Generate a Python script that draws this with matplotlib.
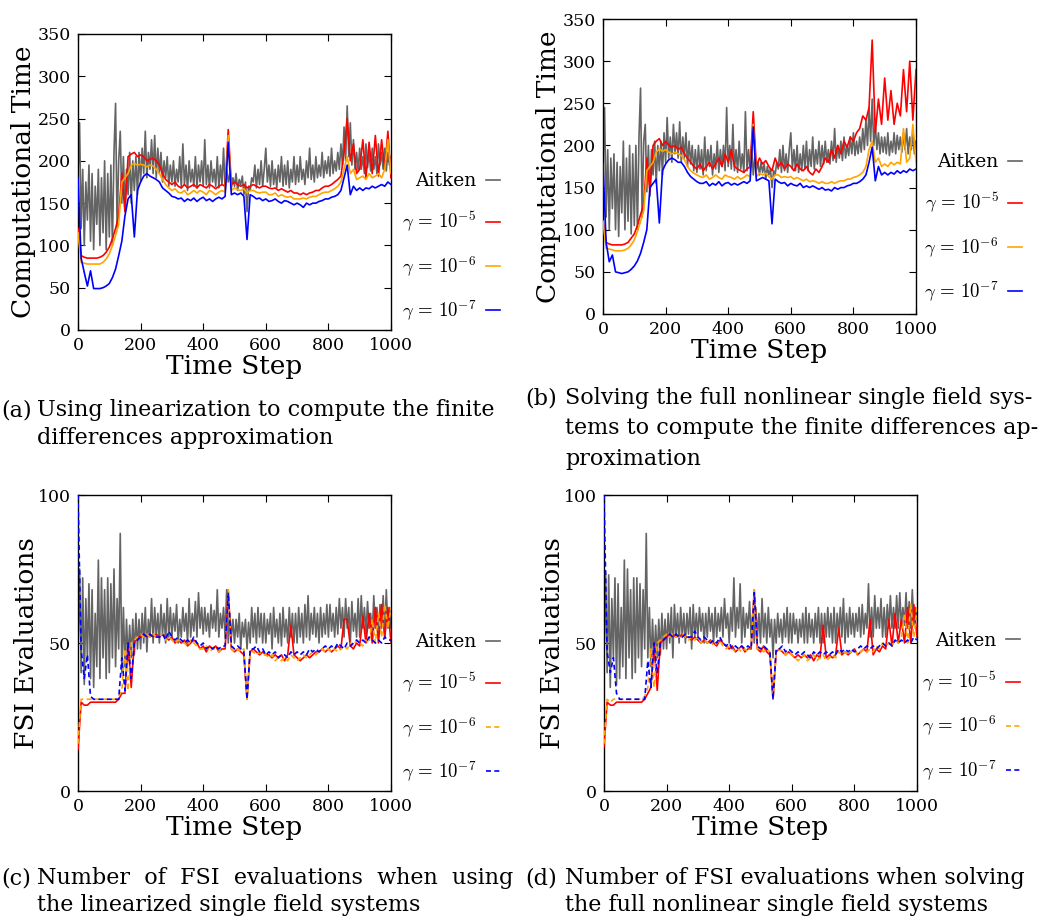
import matplotlib
matplotlib.use("Agg")
from matplotlib import pyplot as plt
import numpy as np

plt.rcParams['font.family'] = ['DejaVu Serif']
plt.rcParams['mathtext.fontset'] = 'cm'

# Aitken is read every 5 steps, the gamma runs every 10 steps
steps_fine = np.arange(0, 1001, 5)
steps = np.arange(0, 1001, 10)

# (a) computational time, linearized finite differences
a_aitken = [185, 245, 120, 190, 100, 175, 130, 195, 105, 185, 95, 170, 125, 190, 100, 180, 115, 200, 95, 185,
            110, 195, 100, 210, 268, 120, 200, 235, 150, 205, 140, 190, 160, 210, 150, 200, 165, 205, 160, 210,
            175, 215, 185, 235, 180, 210, 190, 225, 185, 230, 180, 215, 185, 210, 175, 200, 180, 205, 170, 195,
            175, 200, 170, 190, 175, 205, 168, 220, 172, 195, 165, 200, 175, 190, 170, 205, 168, 195, 175, 200,
            170, 225, 172, 195, 168, 200, 175, 190, 170, 205, 168, 195, 172, 215, 165, 190, 175, 185, 168, 180,
            170, 185, 165, 178, 172, 182, 160, 175, 140, 170, 165, 180, 175, 195, 168, 190, 172, 200, 170, 190,
            215, 175, 195, 170, 200, 172, 190, 168, 195, 175, 205, 170, 195, 172, 200, 168, 190, 175, 205, 172,
            195, 175, 205, 178, 190, 172, 200, 180, 215, 178, 195, 175, 205, 180, 195, 182, 210, 180, 200, 185,
            205, 182, 215, 185, 200, 188, 210, 190, 220, 195, 240, 200, 265, 205, 245, 195, 225, 190, 210, 188,
            215, 190, 205, 185, 220, 192, 210, 188, 215, 190, 205, 185, 220, 195, 210, 190, 215, 188, 210, 195,
            205]
a_g5 = [120, 88, 86, 85, 85, 85, 85, 86, 88, 92,
        98, 108, 120, 135, 185, 140, 205, 208, 210, 205,
        207, 205, 200, 202, 203, 200, 195, 185, 178, 175,
        172, 175, 170, 168, 172, 168, 170, 172, 168, 172,
        170, 168, 172, 170, 167, 170, 172, 170, 237, 172,
        175, 172, 170, 172, 168, 170, 172, 170, 168, 170,
        170, 168, 167, 168, 165, 167, 165, 163, 165, 162,
        162, 160, 162, 160, 162, 163, 165, 165, 168, 170,
        170, 172, 175, 178, 182, 210, 250, 200, 220, 185,
        190, 225, 180, 222, 185, 230, 182, 225, 190, 235,
        180]
a_g6 = [115, 80, 79, 78, 78, 78, 78, 78, 80, 84,
        90, 100, 112, 125, 175, 180, 185, 195, 197, 195,
        196, 195, 193, 195, 194, 190, 185, 178, 172, 168,
        165, 167, 163, 162, 165, 160, 162, 165, 162, 165,
        163, 160, 165, 163, 160, 163, 165, 163, 230, 165,
        168, 166, 165, 167, 162, 165, 165, 163, 162, 163,
        163, 160, 160, 162, 158, 160, 158, 157, 158, 155,
        155, 155, 156, 155, 157, 158, 158, 160, 162, 163,
        163, 165, 167, 170, 175, 190, 205, 185, 190, 178,
        180, 182, 178, 185, 180, 182, 185, 180, 190, 225,
        185]
a_g7 = [180, 85, 68, 52, 70, 49, 49, 49, 50, 52,
        55, 62, 72, 88, 105, 135, 155, 160, 110, 165,
        175, 182, 185, 182, 180, 178, 175, 168, 165, 162,
        158, 157, 155, 156, 152, 155, 153, 156, 152, 155,
        157, 153, 155, 152, 155, 157, 155, 158, 222, 160,
        162, 160, 162, 158, 107, 160, 158, 155, 156, 153,
        155, 152, 153, 155, 152, 150, 153, 152, 150, 148,
        150, 148, 145, 150, 148, 150, 150, 152, 153, 155,
        155, 157, 158, 160, 165, 180, 195, 160, 170, 165,
        168, 165, 168, 167, 170, 168, 170, 172, 170, 175,
        172]

# (b) computational time, full nonlinear single field solves
b_aitken = [180, 245, 115, 195, 100, 185, 125, 190, 100, 180, 92, 175, 120, 205, 100, 185, 110, 200, 95, 190,
            105, 200, 100, 210, 268, 115, 205, 225, 145, 200, 140, 195, 165, 205, 155, 200, 170, 205, 165, 215,
            180, 233, 185, 210, 180, 225, 190, 215, 185, 228, 180, 210, 185, 215, 175, 205, 178, 200, 170, 195,
            168, 200, 172, 195, 165, 210, 170, 195, 175, 200, 165, 190, 172, 205, 168, 195, 175, 200, 170, 245,
            175, 200, 172, 225, 170, 195, 168, 205, 172, 190, 168, 240, 170, 195, 172, 200, 165, 185, 170, 180,
            165, 180, 168, 178, 160, 175, 165, 172, 150, 170, 165, 180, 172, 195, 168, 200, 170, 190, 168, 195,
            215, 172, 195, 170, 200, 168, 190, 170, 200, 172, 205, 170, 195, 175, 210, 172, 195, 178, 205, 175,
            200, 178, 205, 180, 195, 178, 205, 182, 220, 180, 200, 185, 205, 182, 210, 185, 200, 188, 210, 190,
            215, 188, 205, 190, 210, 192, 220, 195, 230, 200, 245, 205, 255, 200, 225, 195, 215, 190, 210, 192,
            210, 190, 215, 188, 205, 192, 215, 190, 212, 195, 210, 192, 215, 195, 220, 190, 210, 195, 215, 190,
            205]
b_g5 = [110, 85, 83, 82, 82, 82, 82, 83, 85, 90,
        95, 105, 118, 130, 185, 145, 200, 205, 208, 200,
        205, 200, 198, 200, 195, 198, 190, 185, 180, 175,
        172, 178, 170, 175, 180, 172, 178, 185, 175, 190,
        180, 195, 175, 172, 170, 168, 172, 175, 240, 175,
        185, 178, 182, 175, 170, 185, 175, 180, 172, 178,
        175, 170, 178, 172, 170, 175, 168, 165, 172, 168,
        175, 185, 180, 195, 185, 200, 190, 205, 198, 210,
        205, 215, 220, 235, 230, 245, 325, 215, 255, 225,
        280, 230, 265, 225, 250, 235, 290, 240, 300, 230,
        290]
b_g6 = [110, 78, 77, 76, 75, 75, 75, 76, 78, 82,
        88, 98, 110, 122, 170, 175, 180, 192, 196, 193,
        195, 192, 190, 192, 190, 188, 183, 175, 170, 167,
        165, 163, 162, 165, 160, 162, 165, 162, 160, 165,
        163, 162, 160, 163, 160, 162, 165, 163, 225, 163,
        167, 165, 167, 163, 160, 165, 165, 162, 163, 162,
        163, 160, 162, 160, 158, 160, 157, 158, 157, 155,
        157, 155, 155, 157, 155, 157, 158, 158, 160, 160,
        162, 163, 165, 168, 175, 195, 205, 180, 185, 175,
        178, 175, 180, 177, 180, 178, 220, 180, 185, 225,
        180]
b_g7 = [178, 85, 62, 70, 50, 49, 48, 49, 50, 53,
        57, 63, 72, 85, 100, 150, 155, 160, 108, 170,
        178, 183, 185, 183, 180, 180, 175, 168, 163, 160,
        157, 155, 155, 157, 152, 155, 153, 157, 152, 155,
        156, 153, 155, 153, 155, 157, 155, 158, 222, 158,
        160, 162, 160, 158, 107, 160, 157, 155, 156, 152,
        155, 153, 152, 155, 150, 152, 150, 152, 150, 148,
        150, 147, 148, 146, 150, 148, 150, 150, 152, 153,
        155, 155, 157, 160, 165, 180, 198, 158, 175, 165,
        168, 165, 168, 166, 170, 167, 170, 168, 172, 170,
        172]

# (c) FSI evaluations, linearized
c_aitken = [48, 75, 40, 72, 36, 65, 45, 70, 38, 68, 35, 60, 42, 78, 38, 72, 45, 68, 38, 72,
            40, 70, 45, 75, 42, 65, 48, 87, 40, 62, 42, 58, 44, 56, 45, 58, 46, 60, 48, 58,
            48, 60, 50, 62, 47, 58, 52, 65, 50, 62, 52, 60, 50, 63, 53, 60, 50, 65, 52, 62,
            52, 60, 54, 63, 50, 58, 52, 62, 54, 60, 50, 65, 52, 60, 54, 64, 52, 67, 55, 62,
            53, 62, 54, 60, 52, 63, 55, 61, 54, 68, 52, 60, 55, 62, 52, 68, 50, 60, 52, 58,
            50, 58, 52, 60, 48, 57, 52, 58, 48, 57, 50, 62, 52, 60, 50, 62, 52, 60, 50, 60,
            50, 58, 53, 60, 48, 62, 52, 58, 50, 60, 49, 62, 52, 58, 50, 62, 52, 60, 50, 60,
            50, 62, 52, 60, 50, 63, 52, 66, 51, 60, 53, 62, 52, 60, 50, 62, 52, 60, 53, 63,
            52, 63, 54, 60, 52, 62, 53, 65, 55, 62, 52, 65, 55, 62, 50, 64, 54, 60, 52, 65,
            52, 66, 55, 62, 53, 64, 55, 60, 52, 66, 55, 62, 53, 63, 55, 66, 52, 68, 55, 62,
            55]
c_g5 = [14, 30, 29, 29, 30, 30, 30, 30, 30, 30,
        30, 30, 30, 31, 33, 33, 50, 35, 50, 52,
        52, 53, 52, 53, 52, 53, 52, 53, 52, 51,
        52, 50, 51, 50, 51, 49, 50, 51, 50, 48,
        49, 47, 49, 48, 49, 47, 48, 48, 68, 48,
        47, 48, 47, 46, 31, 47, 48, 47, 46, 47,
        46, 46, 45, 46, 45, 46, 44, 46, 56, 46,
        45, 44, 45, 46, 45, 46, 47, 47, 48, 47,
        48, 47, 48, 49, 48, 58, 58, 49, 48, 50,
        49, 59, 50, 60, 50, 62, 50, 63, 52, 62,
        50]
c_g6 = [16, 31, 31, 31, 31, 31, 31, 31, 31, 31,
        31, 31, 31, 32, 34, 48, 34, 50, 51, 52,
        53, 52, 53, 52, 53, 52, 52, 53, 51, 52,
        51, 50, 51, 50, 50, 49, 51, 50, 49, 48,
        48, 49, 47, 48, 48, 47, 48, 49, 68, 48,
        47, 48, 47, 48, 31, 47, 47, 46, 47, 46,
        46, 45, 46, 44, 45, 44, 45, 44, 46, 45,
        44, 45, 46, 45, 46, 47, 46, 47, 48, 47,
        48, 47, 48, 47, 48, 49, 48, 50, 49, 51,
        50, 49, 51, 50, 58, 50, 60, 52, 63, 55,
        62]
c_g7 = [100, 48, 38, 46, 32, 31, 31, 31, 31, 31,
        31, 31, 31, 31, 45, 34, 50, 38, 50, 51,
        52, 53, 52, 53, 52, 52, 52, 53, 51, 54,
        52, 51, 52, 51, 50, 51, 50, 52, 50, 49,
        50, 48, 49, 48, 49, 48, 49, 49, 67, 49,
        48, 49, 48, 47, 31, 48, 48, 49, 47, 48,
        46, 47, 46, 47, 45, 46, 46, 45, 47, 46,
        47, 46, 47, 46, 48, 47, 48, 47, 48, 49,
        48, 49, 48, 50, 49, 48, 50, 49, 50, 51,
        50, 51, 50, 52, 51, 50, 51, 50, 52, 51,
        51]

# (d) FSI evaluations, full nonlinear single field solves
d_aitken = [45, 74, 40, 73, 35, 65, 45, 72, 36, 70, 38, 62, 42, 78, 38, 75, 45, 68, 38, 72,
            40, 72, 45, 70, 42, 68, 48, 87, 45, 62, 42, 58, 44, 56, 45, 58, 46, 60, 48, 58,
            48, 60, 50, 62, 45, 63, 52, 60, 50, 62, 52, 60, 50, 60, 53, 62, 48, 63, 52, 60,
            52, 62, 54, 60, 50, 60, 52, 62, 54, 60, 50, 62, 52, 60, 54, 62, 52, 65, 55, 60,
            50, 62, 54, 72, 52, 62, 55, 70, 50, 62, 52, 60, 55, 64, 52, 60, 50, 62, 52, 60,
            50, 65, 52, 60, 50, 62, 52, 58, 45, 58, 50, 60, 52, 58, 50, 60, 52, 62, 50, 60,
            50, 60, 53, 58, 50, 58, 52, 60, 50, 62, 50, 60, 52, 58, 50, 60, 52, 62, 50, 60,
            50, 60, 52, 62, 52, 60, 50, 62, 50, 60, 53, 62, 52, 65, 50, 60, 52, 62, 53, 60,
            52, 60, 54, 62, 52, 63, 53, 60, 55, 70, 52, 62, 52, 66, 55, 62, 55, 65, 52, 62,
            52, 63, 55, 66, 55, 62, 55, 66, 55, 67, 56, 62, 56, 67, 55, 64, 55, 68, 56, 62,
            58]
d_g5 = [15, 30, 29, 29, 30, 30, 30, 30, 30, 30,
        30, 30, 30, 31, 33, 35, 50, 34, 50, 51,
        52, 53, 52, 53, 52, 53, 52, 52, 51, 52,
        51, 50, 51, 50, 51, 50, 49, 51, 50, 49,
        48, 49, 47, 48, 49, 47, 48, 48, 68, 48,
        47, 49, 47, 46, 31, 47, 48, 47, 46, 47,
        46, 45, 46, 45, 46, 45, 46, 44, 46, 45,
        56, 45, 46, 45, 46, 55, 46, 47, 46, 47,
        48, 46, 47, 48, 47, 58, 46, 48, 47, 49,
        48, 58, 49, 60, 50, 58, 50, 62, 50, 63,
        52]
d_g6 = [16, 31, 30, 31, 31, 31, 31, 31, 31, 31,
        31, 31, 31, 32, 35, 48, 35, 50, 51, 52,
        53, 52, 53, 52, 52, 53, 52, 51, 52, 51,
        52, 50, 51, 50, 51, 49, 50, 51, 49, 48,
        49, 48, 47, 48, 47, 48, 47, 49, 68, 48,
        48, 47, 48, 47, 31, 47, 48, 47, 46, 47,
        46, 45, 44, 45, 46, 44, 45, 46, 44, 45,
        46, 44, 45, 46, 45, 47, 46, 47, 46, 47,
        48, 46, 47, 48, 47, 48, 47, 49, 48, 50,
        49, 50, 49, 51, 50, 52, 60, 50, 63, 52,
        62]
d_g7 = [100, 47, 40, 45, 33, 31, 31, 31, 31, 31,
        31, 31, 31, 31, 44, 35, 50, 40, 50, 51,
        52, 53, 52, 53, 52, 52, 53, 52, 52, 54,
        52, 51, 52, 51, 50, 51, 50, 52, 50, 49,
        50, 48, 49, 48, 49, 48, 49, 48, 67, 49,
        48, 49, 48, 47, 31, 48, 48, 49, 47, 48,
        47, 46, 47, 46, 47, 46, 45, 47, 46, 47,
        46, 47, 46, 47, 46, 48, 47, 48, 47, 48,
        47, 48, 49, 48, 49, 48, 49, 48, 49, 50,
        49, 50, 49, 51, 50, 51, 50, 51, 50, 52,
        51]

labels = ['Aitken', r'$\gamma\,=\,10^{-5}$', r'$\gamma\,=\,10^{-6}$', r'$\gamma\,=\,10^{-7}$']
colors = ['#646464', '#ff0000', '#ffa500', '#0000ff']

captions = {
    'a': ["Using linearization to compute the finite", "differences approximation"],
    'b': ["Solving the full nonlinear single field sys-",
          "tems to compute the finite differences ap-", "proximation"],
    'c': ["Number  of  FSI  evaluations  when  using", "the linearized single field systems"],
    'd': ["Number of FSI evaluations when solving", "the full nonlinear single field systems"],
}

W, H = 1048, 919
fig = plt.figure(figsize=(W / 100, H / 100), dpi=100)


def panel(box, data, ymax, yticks, ylabel, ylab_x, dashed, leg_x, leg_y):
    left, top, right, bottom = box
    ax = fig.add_axes([left / W, 1 - bottom / H, (right - left) / W, (bottom - top) / H])
    ax.plot(steps_fine, data[0], color=colors[0], lw=1.2, label=labels[0], zorder=2)
    for i in range(1, 4):
        ls = (0, (3, 2)) if (dashed and i >= 2) else '-'
        ax.plot(steps, data[i], color=colors[i], lw=1.2, ls=ls, label=labels[i], zorder=2 + i)
    ax.set_xlim(0, 1000)
    ax.set_ylim(0, ymax)
    ax.set_xticks([0, 200, 400, 600, 800, 1000])
    ax.set_yticks(yticks)
    ax.tick_params(direction='in', top=True, right=True, length=5, width=0.8,
                   labelsize=12.5, pad=5)
    for s in ax.spines.values():
        s.set_linewidth(1.0)
    ax.set_ylabel(ylabel, fontsize=19)
    ax.yaxis.set_label_coords(ylab_x, 0.5)
    ax.set_xlabel('Time Step', fontsize=19)
    ax.xaxis.set_label_coords(0.5, -0.08)
    ax.legend(loc='upper left', bbox_to_anchor=(leg_x, leg_y), frameon=False,
              markerfirst=False, fontsize=13.5, handlelength=0.75, handletextpad=0.5,
              labelspacing=1.05, borderpad=0, borderaxespad=0)
    return ax


panel((78, 34, 391, 330), [a_aitken, a_g5, a_g6, a_g7], 350, range(0, 351, 50),
      'Computational Time', -0.135, False, 1.035, 0.533)
panel((603, 19, 916, 314), [b_aitken, b_g5, b_g6, b_g7], 350, range(0, 351, 50),
      'Computational Time', -0.135, False, 1.026, 0.545)
panel((78, 495, 391, 791), [c_aitken, c_g5, c_g6, c_g7], 100, [0, 50, 100],
      'FSI Evaluations', -0.125, True, 1.035, 0.533)
panel((604, 495, 917, 791), [d_aitken, d_g5, d_g6, d_g7], 100, [0, 50, 100],
      'FSI Evaluations', -0.125, True, 1.016, 0.537)


def caption(tag, x_tag, x_text, ys):
    fig.text(x_tag / W, 1 - ys[0] / H, '(%s)' % tag, fontsize=16, va='center', ha='left')
    for line, y in zip(captions[tag], ys):
        fig.text(x_text / W, 1 - y / H, line, fontsize=16, va='center', ha='left')


caption('a', 1, 37, [410, 438])
caption('b', 525, 565, [398, 428, 459])
caption('c', 1, 37, [878, 905])
caption('d', 525, 565, [878, 905])

fig.savefig('out.png', dpi=100)
